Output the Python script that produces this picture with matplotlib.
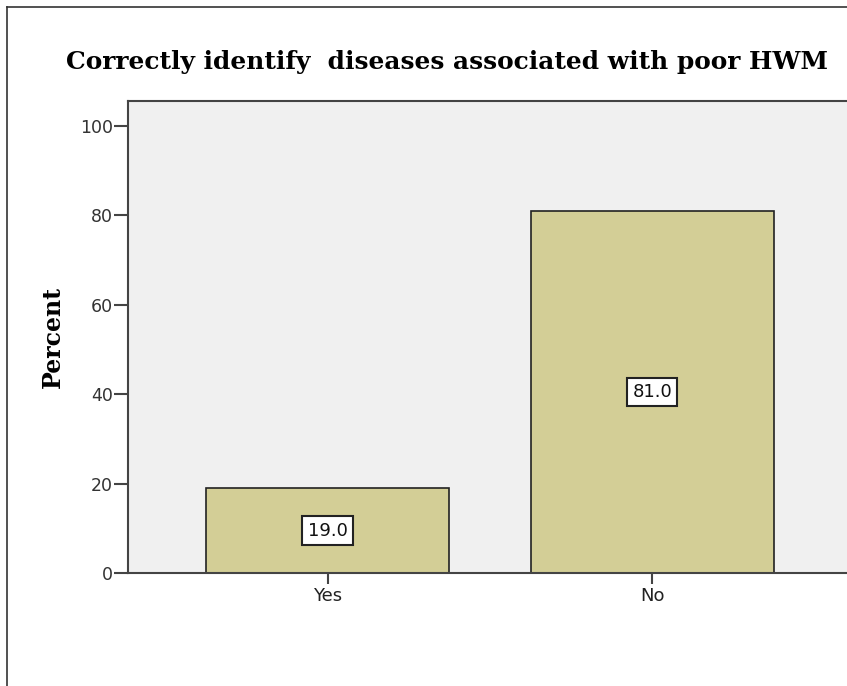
import matplotlib
matplotlib.use("Agg")
import matplotlib.pyplot as plt
from matplotlib.lines import Line2D

categories = ["Yes", "No"]
percent = [19.0, 81.0]
yticks = [0, 20, 40, 60, 80, 100]
title = "Correctly identify  diseases associated with poor HWM"

fig = plt.figure(figsize=(8.47, 6.86), dpi=100)
fig.patch.set_facecolor("white")

# figure border (left and top visible)
fig.add_artist(Line2D([7/847, 7/847], [0, 1 - 7/686], color="#333333", lw=1.2, transform=fig.transFigure))
fig.add_artist(Line2D([7/847, 1], [1 - 7/686, 1 - 7/686], color="#333333", lw=1.2, transform=fig.transFigure))

ax = fig.add_axes([128/847, 1 - 573/686, 724/847, (573 - 101)/686])
ax.set_facecolor("#F0F0F0")
x = list(range(len(categories)))
ax.bar(x, percent, width=0.75, color="#D3CE96", edgecolor="#222222", linewidth=1.2, zorder=2)
for xi, v in zip(x, percent):
    ax.text(xi, v / 2, f"{v:.1f}", ha="center", va="center", fontsize=13, color="#111111",
            family="DejaVu Sans",
            bbox=dict(boxstyle="square,pad=0.3", facecolor="white", edgecolor="#222222", linewidth=1.5),
            zorder=3)

ax.set_xlim(-0.616, 1.616)
ax.set_ylim(0, 105.6)
ax.set_xticks(x)
ax.set_xticklabels(categories)
ax.set_yticks(yticks)
for s in ax.spines.values():
    s.set_color("#444444")
    s.set_linewidth(1.5)
ax.tick_params(axis="y", length=10, width=1.5, color="#444444", labelsize=12.5, labelcolor="#333333", pad=1)
ax.tick_params(axis="x", length=8, width=1.5, color="#444444", labelsize=13, labelcolor="#222222", pad=2)

ax.set_ylabel("Percent", family="DejaVu Serif", fontweight="bold", fontsize=17, labelpad=11)
fig.text(447/847, 1 - 62/686, title, ha="center", va="center", family="DejaVu Serif",
         fontweight="bold", fontsize=17.9)

fig.savefig("out.png", dpi=100)
